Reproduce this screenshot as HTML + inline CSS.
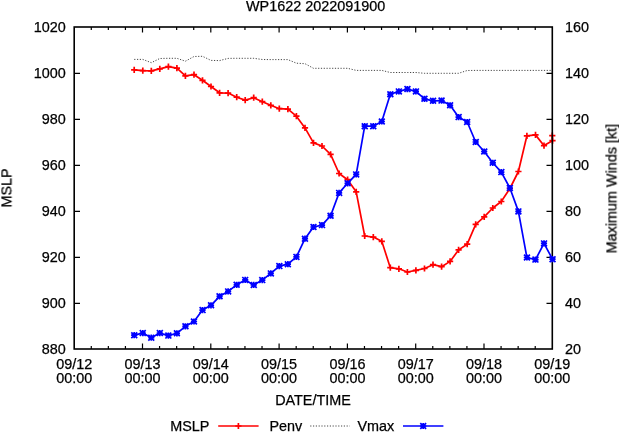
<!DOCTYPE html>
<html lang="en"><head><meta charset="utf-8"><title>WP1622 2022091900</title>
<style>html,body{margin:0;padding:0;background:#fff;}body{width:619px;height:432px;overflow:hidden;}svg{display:block;}text{font-family:"Liberation Sans",Arial,Helvetica,sans-serif;font-size:14.4px;fill:#000;stroke:#000;stroke-width:0.25px;}</style>
</head><body>
<svg width="619" height="432" viewBox="0 0 619 432">
<rect x="0" y="0" width="619" height="432" fill="#fff"/>
<defs><filter id="soft" x="0" y="0" width="619" height="432" filterUnits="userSpaceOnUse"><feGaussianBlur stdDeviation="0.35"/></filter></defs>
<g filter="url(#soft)">
<text x="65.8" y="32.0" text-anchor="end">1020</text>
<text x="65.8" y="78.0" text-anchor="end">1000</text>
<text x="65.8" y="124.0" text-anchor="end">980</text>
<text x="65.8" y="170.0" text-anchor="end">960</text>
<text x="65.8" y="216.0" text-anchor="end">940</text>
<text x="65.8" y="262.0" text-anchor="end">920</text>
<text x="65.8" y="308.0" text-anchor="end">900</text>
<text x="65.8" y="354.0" text-anchor="end">880</text>
<text x="565.0" y="32.0">160</text>
<text x="565.0" y="78.0">140</text>
<text x="565.0" y="124.0">120</text>
<text x="565.0" y="170.0">100</text>
<text x="565.0" y="216.0">80</text>
<text x="565.0" y="262.0">60</text>
<text x="565.0" y="308.0">40</text>
<text x="565.0" y="354.0">20</text>
<text x="74.2" y="369.3" text-anchor="middle">09/12</text>
<text x="74.2" y="383.3" text-anchor="middle">00:00</text>
<text x="142.5" y="369.3" text-anchor="middle">09/13</text>
<text x="142.5" y="383.3" text-anchor="middle">00:00</text>
<text x="210.8" y="369.3" text-anchor="middle">09/14</text>
<text x="210.8" y="383.3" text-anchor="middle">00:00</text>
<text x="279.1" y="369.3" text-anchor="middle">09/15</text>
<text x="279.1" y="383.3" text-anchor="middle">00:00</text>
<text x="347.4" y="369.3" text-anchor="middle">09/16</text>
<text x="347.4" y="383.3" text-anchor="middle">00:00</text>
<text x="415.7" y="369.3" text-anchor="middle">09/17</text>
<text x="415.7" y="383.3" text-anchor="middle">00:00</text>
<text x="484.0" y="369.3" text-anchor="middle">09/18</text>
<text x="484.0" y="383.3" text-anchor="middle">00:00</text>
<text x="552.3" y="369.3" text-anchor="middle">09/19</text>
<text x="552.3" y="383.3" text-anchor="middle">00:00</text>
<text x="315.6" y="11" text-anchor="middle">WP1622 2022091900</text>
<text x="313.0" y="404.9" text-anchor="middle">DATE/TIME</text>
<text transform="translate(11.4,188) rotate(-90)" text-anchor="middle">MSLP</text>
<text transform="translate(616.4,188.6) rotate(-90)" text-anchor="middle">Maximum Winds [kt]</text>
<polyline points="134.2,59.4 142.8,59.4 151.3,62.7 159.8,58.5 168.4,58.3 176.9,58.3 185.4,61.2 194.0,56.5 202.5,56.3 211.0,60.4 219.6,60.6 228.1,58.4 236.7,58.3 245.2,58.3 253.7,58.3 262.3,59.5 270.8,59.6 279.3,59.6 287.9,59.6 296.4,63.2 305.0,63.7 313.5,68.3 322.0,68.3 330.6,68.3 339.1,68.3 347.6,68.3 356.2,70.4 364.7,70.4 373.3,70.4 381.8,70.4 390.3,72.5 398.9,72.5 407.4,72.5 415.9,72.5 424.5,73.3 433.0,73.3 441.6,73.3 450.1,73.3 458.6,73.3 467.2,70.5 475.7,70.4 484.2,70.4 492.8,70.4 501.3,70.4 509.9,70.4 518.4,70.4 526.9,70.4 535.5,70.4 544.0,70.4 552.5,70.4" fill="none" stroke="#000" stroke-width="1" stroke-dasharray="1.2 1.6" opacity="0.72"/>
<polyline points="134.2,69.8 142.8,70.6 151.3,70.9 159.8,68.8 168.4,66.6 176.9,68.2 185.4,75.8 194.0,74.7 202.5,80.3 211.0,86.5 219.6,92.8 228.1,93.1 236.7,97.2 245.2,100.1 253.7,97.7 262.3,101.7 270.8,105.3 279.3,108.7 287.9,109.1 296.4,116.2 305.0,127.9 313.5,142.9 322.0,146.0 330.6,154.3 339.1,173.5 347.6,179.7 356.2,191.8 364.7,236.0 373.3,237.1 381.8,241.3 390.3,267.7 398.9,268.8 407.4,272.0 415.9,270.4 424.5,268.5 433.0,264.7 441.6,266.7 450.1,261.4 458.6,249.9 467.2,244.2 475.7,224.4 484.2,216.9 492.8,208.0 501.3,201.5 509.9,188.5 518.4,171.5 526.9,135.8 535.5,134.9 544.0,145.6 552.5,140.7 552.3,135.7" fill="none" stroke="#f00" stroke-width="1.70" stroke-linejoin="round"/>
<path d="M131.1 69.8H137.3M134.2 66.7V72.9M139.7 70.6H145.8M142.8 67.5V73.7M148.2 70.9H154.4M151.3 67.8V74.0M156.7 68.8H162.9M159.8 65.7V71.9M165.3 66.6H171.5M168.4 63.5V69.7M173.8 68.2H180.0M176.9 65.1V71.3M182.3 75.8H188.5M185.4 72.7V78.9M190.9 74.7H197.1M194.0 71.6V77.8M199.4 80.3H205.6M202.5 77.2V83.4M207.9 86.5H214.1M211.0 83.4V89.6M216.5 92.8H222.7M219.6 89.7V95.9M225.0 93.1H231.2M228.1 90.0V96.2M233.6 97.2H239.8M236.7 94.1V100.3M242.1 100.1H248.3M245.2 97.0V103.2M250.6 97.7H256.8M253.7 94.6V100.8M259.2 101.7H265.4M262.3 98.6V104.8M267.7 105.3H273.9M270.8 102.2V108.4M276.2 108.7H282.4M279.3 105.6V111.8M284.8 109.1H291.0M287.9 106.0V112.2M293.3 116.2H299.5M296.4 113.1V119.3M301.9 127.9H308.1M305.0 124.8V131.0M310.4 142.9H316.6M313.5 139.8V146.0M318.9 146.0H325.1M322.0 142.9V149.1M327.5 154.3H333.7M330.6 151.2V157.4M336.0 173.5H342.2M339.1 170.4V176.6M344.5 179.7H350.8M347.6 176.6V182.8M353.1 191.8H359.3M356.2 188.7V194.9M361.6 236.0H367.8M364.7 232.9V239.1M370.2 237.1H376.4M373.3 234.0V240.2M378.7 241.3H384.9M381.8 238.2V244.4M387.2 267.7H393.4M390.3 264.6V270.8M395.8 268.8H402.0M398.9 265.7V271.9M404.3 272.0H410.5M407.4 268.9V275.1M412.8 270.4H419.0M415.9 267.3V273.5M421.4 268.5H427.6M424.5 265.4V271.6M429.9 264.7H436.1M433.0 261.6V267.8M438.5 266.7H444.7M441.6 263.6V269.8M447.0 261.4H453.2M450.1 258.3V264.5M455.5 249.9H461.7M458.6 246.8V253.0M464.1 244.2H470.3M467.2 241.1V247.3M472.6 224.4H478.8M475.7 221.3V227.5M481.1 216.9H487.3M484.2 213.8V220.0M489.7 208.0H495.9M492.8 204.9V211.1M498.2 201.5H504.4M501.3 198.4V204.6M506.8 188.5H513.0M509.9 185.4V191.6M515.3 171.5H521.5M518.4 168.4V174.6M523.8 135.8H530.0M526.9 132.7V138.9M532.4 134.9H538.6M535.5 131.8V138.0M540.9 145.6H547.1M544.0 142.5V148.7M549.4 140.7H555.6M552.5 137.6V143.8M549.2 135.7H555.4M552.3 132.6V138.8" stroke="#f00" stroke-width="1.70" fill="none"/>
<path d="M91.28 349.00V346.10M91.28 27.00V29.90M108.35 349.00V346.10M108.35 27.00V29.90M125.42 349.00V346.10M125.42 27.00V29.90M142.50 349.00V343.40M142.50 27.00V32.60M159.57 349.00V346.10M159.57 27.00V29.90M176.65 349.00V346.10M176.65 27.00V29.90M193.72 349.00V346.10M193.72 27.00V29.90M210.80 349.00V343.40M210.80 27.00V32.60M227.88 349.00V346.10M227.88 27.00V29.90M244.95 349.00V346.10M244.95 27.00V29.90M262.02 349.00V346.10M262.02 27.00V29.90M279.10 349.00V343.40M279.10 27.00V32.60M296.18 349.00V346.10M296.18 27.00V29.90M313.25 349.00V346.10M313.25 27.00V29.90M330.32 349.00V346.10M330.32 27.00V29.90M347.40 349.00V343.40M347.40 27.00V32.60M364.47 349.00V346.10M364.47 27.00V29.90M381.55 349.00V346.10M381.55 27.00V29.90M398.62 349.00V346.10M398.62 27.00V29.90M415.70 349.00V343.40M415.70 27.00V32.60M432.77 349.00V346.10M432.77 27.00V29.90M449.85 349.00V346.10M449.85 27.00V29.90M466.92 349.00V346.10M466.92 27.00V29.90M484.00 349.00V343.40M484.00 27.00V32.60M501.07 349.00V346.10M501.07 27.00V29.90M518.15 349.00V346.10M518.15 27.00V29.90M535.23 349.00V346.10M535.23 27.00V29.90M74.20 73.40H80.00M552.30 73.40H546.50M74.20 119.40H80.00M552.30 119.40H546.50M74.20 165.40H80.00M552.30 165.40H546.50M74.20 211.40H80.00M552.30 211.40H546.50M74.20 257.40H80.00M552.30 257.40H546.50M74.20 303.40H80.00M552.30 303.40H546.50" stroke="#000" stroke-width="1.20" fill="none"/>
<rect x="74.20" y="27.00" width="478.10" height="322.00" fill="none" stroke="#000" stroke-width="1.60"/>
<polyline points="134.2,335.2 142.8,333.1 151.3,337.7 159.8,333.1 168.4,335.6 176.9,333.3 185.4,326.3 194.0,321.5 202.5,310.1 211.0,305.3 219.6,296.3 228.1,291.4 236.7,284.8 245.2,279.9 253.7,284.9 262.3,280.1 270.8,273.4 279.3,266.1 287.9,264.2 296.4,256.9 305.0,238.7 313.5,227.0 322.0,225.1 330.6,215.7 339.1,192.9 347.6,183.3 356.2,174.4 364.7,126.2 373.3,126.2 381.8,121.5 390.3,94.3 398.9,91.4 407.4,89.1 415.9,91.4 424.5,98.8 433.0,100.8 441.6,100.6 450.1,105.3 458.6,117.1 467.2,122.0 475.7,142.0 484.2,151.5 492.8,162.8 501.3,172.1 509.9,188.0 518.4,211.4 526.9,257.5 535.5,259.6 544.0,243.4 552.5,259.2" fill="none" stroke="#00f" stroke-width="1.70" stroke-linejoin="round"/>
<path d="M131.1 335.2H137.3M134.2 332.1V338.3M131.3 332.3L137.2 338.1M131.3 338.1L137.2 332.3M139.7 333.1H145.8M142.8 330.0V336.2M139.8 330.2L145.7 336.0M139.8 336.0L145.7 330.2M148.2 337.7H154.4M151.3 334.6V340.8M148.3 334.8L154.2 340.6M148.3 340.6L154.2 334.8M156.7 333.1H162.9M159.8 330.0V336.2M156.9 330.2L162.8 336.0M156.9 336.0L162.8 330.2M165.3 335.6H171.5M168.4 332.5V338.7M165.4 332.7L171.3 338.5M165.4 338.5L171.3 332.7M173.8 333.3H180.0M176.9 330.2V336.4M174.0 330.4L179.8 336.2M174.0 336.2L179.8 330.4M182.3 326.3H188.5M185.4 323.2V329.4M182.5 323.4L188.4 329.2M182.5 329.2L188.4 323.4M190.9 321.5H197.1M194.0 318.4V324.6M191.0 318.6L196.9 324.4M191.0 324.4L196.9 318.6M199.4 310.1H205.6M202.5 307.0V313.2M199.6 307.2L205.5 313.0M199.6 313.0L205.5 307.2M207.9 305.3H214.1M211.0 302.2V308.4M208.1 302.4L214.0 308.2M208.1 308.2L214.0 302.4M216.5 296.3H222.7M219.6 293.2V299.4M216.6 293.4L222.5 299.2M216.6 299.2L222.5 293.4M225.0 291.4H231.2M228.1 288.3V294.5M225.2 288.5L231.1 294.3M225.2 294.3L231.1 288.5M233.6 284.8H239.8M236.7 281.7V287.9M233.7 281.9L239.6 287.7M233.7 287.7L239.6 281.9M242.1 279.9H248.3M245.2 276.8V283.0M242.3 277.0L248.1 282.8M242.3 282.8L248.1 277.0M250.6 284.9H256.8M253.7 281.8V288.0M250.8 282.0L256.7 287.8M250.8 287.8L256.7 282.0M259.2 280.1H265.4M262.3 277.0V283.2M259.3 277.2L265.2 283.0M259.3 283.0L265.2 277.2M267.7 273.4H273.9M270.8 270.3V276.5M267.9 270.5L273.8 276.3M267.9 276.3L273.8 270.5M276.2 266.1H282.4M279.3 263.0V269.2M276.4 263.2L282.3 269.0M276.4 269.0L282.3 263.2M284.8 264.2H291.0M287.9 261.1V267.3M284.9 261.3L290.8 267.1M284.9 267.1L290.8 261.3M293.3 256.9H299.5M296.4 253.8V260.0M293.5 254.0L299.4 259.8M293.5 259.8L299.4 254.0M301.9 238.7H308.1M305.0 235.6V241.8M302.0 235.8L307.9 241.6M302.0 241.6L307.9 235.8M310.4 227.0H316.6M313.5 223.9V230.1M310.6 224.1L316.4 229.9M310.6 229.9L316.4 224.1M318.9 225.1H325.1M322.0 222.0V228.2M319.1 222.2L325.0 228.0M319.1 228.0L325.0 222.2M327.5 215.7H333.7M330.6 212.6V218.8M327.6 212.8L333.5 218.6M327.6 218.6L333.5 212.8M336.0 192.9H342.2M339.1 189.8V196.0M336.2 190.0L342.1 195.8M336.2 195.8L342.1 190.0M344.5 183.3H350.8M347.6 180.2V186.4M344.7 180.4L350.6 186.2M344.7 186.2L350.6 180.4M353.1 174.4H359.3M356.2 171.3V177.5M353.2 171.5L359.1 177.3M353.2 177.3L359.1 171.5M361.6 126.2H367.8M364.7 123.1V129.3M361.8 123.3L367.7 129.1M361.8 129.1L367.7 123.3M370.2 126.2H376.4M373.3 123.1V129.3M370.3 123.3L376.2 129.1M370.3 129.1L376.2 123.3M378.7 121.5H384.9M381.8 118.4V124.6M378.9 118.6L384.7 124.4M378.9 124.4L384.7 118.6M387.2 94.3H393.4M390.3 91.2V97.4M387.4 91.4L393.3 97.2M387.4 97.2L393.3 91.4M395.8 91.4H402.0M398.9 88.3V94.5M395.9 88.5L401.8 94.3M395.9 94.3L401.8 88.5M404.3 89.1H410.5M407.4 86.0V92.2M404.5 86.2L410.4 92.0M404.5 92.0L410.4 86.2M412.8 91.4H419.0M415.9 88.3V94.5M413.0 88.5L418.9 94.3M413.0 94.3L418.9 88.5M421.4 98.8H427.6M424.5 95.7V101.9M421.5 95.9L427.4 101.7M421.5 101.7L427.4 95.9M429.9 100.8H436.1M433.0 97.7V103.9M430.1 97.9L436.0 103.7M430.1 103.7L436.0 97.9M438.5 100.6H444.7M441.6 97.5V103.7M438.6 97.7L444.5 103.5M438.6 103.5L444.5 97.7M447.0 105.3H453.2M450.1 102.2V108.4M447.2 102.4L453.0 108.2M447.2 108.2L453.0 102.4M455.5 117.1H461.7M458.6 114.0V120.2M455.7 114.2L461.6 120.0M455.7 120.0L461.6 114.2M464.1 122.0H470.3M467.2 118.9V125.1M464.2 119.1L470.1 124.9M464.2 124.9L470.1 119.1M472.6 142.0H478.8M475.7 138.9V145.1M472.8 139.1L478.7 144.9M472.8 144.9L478.7 139.1M481.1 151.5H487.3M484.2 148.4V154.6M481.3 148.6L487.2 154.4M481.3 154.4L487.2 148.6M489.7 162.8H495.9M492.8 159.7V165.9M489.8 159.9L495.7 165.7M489.8 165.7L495.7 159.9M498.2 172.1H504.4M501.3 169.0V175.2M498.4 169.2L504.3 175.0M498.4 175.0L504.3 169.2M506.8 188.0H513.0M509.9 184.9V191.1M506.9 185.1L512.8 190.9M506.9 190.9L512.8 185.1M515.3 211.4H521.5M518.4 208.3V214.5M515.5 208.5L521.3 214.3M515.5 214.3L521.3 208.5M523.8 257.5H530.0M526.9 254.4V260.6M524.0 254.6L529.9 260.4M524.0 260.4L529.9 254.6M532.4 259.6H538.6M535.5 256.5V262.7M532.5 256.7L538.4 262.5M532.5 262.5L538.4 256.7M540.9 243.4H547.1M544.0 240.3V246.5M541.1 240.5L547.0 246.3M541.1 246.3L547.0 240.5M549.4 259.2H555.6M552.5 256.1V262.3M549.6 256.3L555.5 262.1M549.6 262.1L555.5 256.3" stroke="#00f" stroke-width="1.70" fill="none"/>
<text x="170.2" y="430.6">MSLP</text>
<path d="M218.2 426.0H258.6" stroke="#f00" stroke-width="1.70"/>
<path d="M235.3 426.0H241.5M238.4 422.9V429.1" stroke="#f00" stroke-width="1.70" fill="none"/>
<text x="269.4" y="430.6">Penv</text>
<path d="M310.2 426.0H349.8" stroke="#000" stroke-width="1" stroke-dasharray="1.2 1.6" opacity="0.72"/>
<text x="357.4" y="430.6">Vmax</text>
<path d="M403 426.0H443.4" stroke="#00f" stroke-width="1.70"/>
<path d="M420.1 426.0H426.3M423.2 422.9V429.1M420.3 423.1L426.1 428.9M420.3 428.9L426.1 423.1" stroke="#00f" stroke-width="1.70" fill="none"/>
</g>
</svg></body></html>
